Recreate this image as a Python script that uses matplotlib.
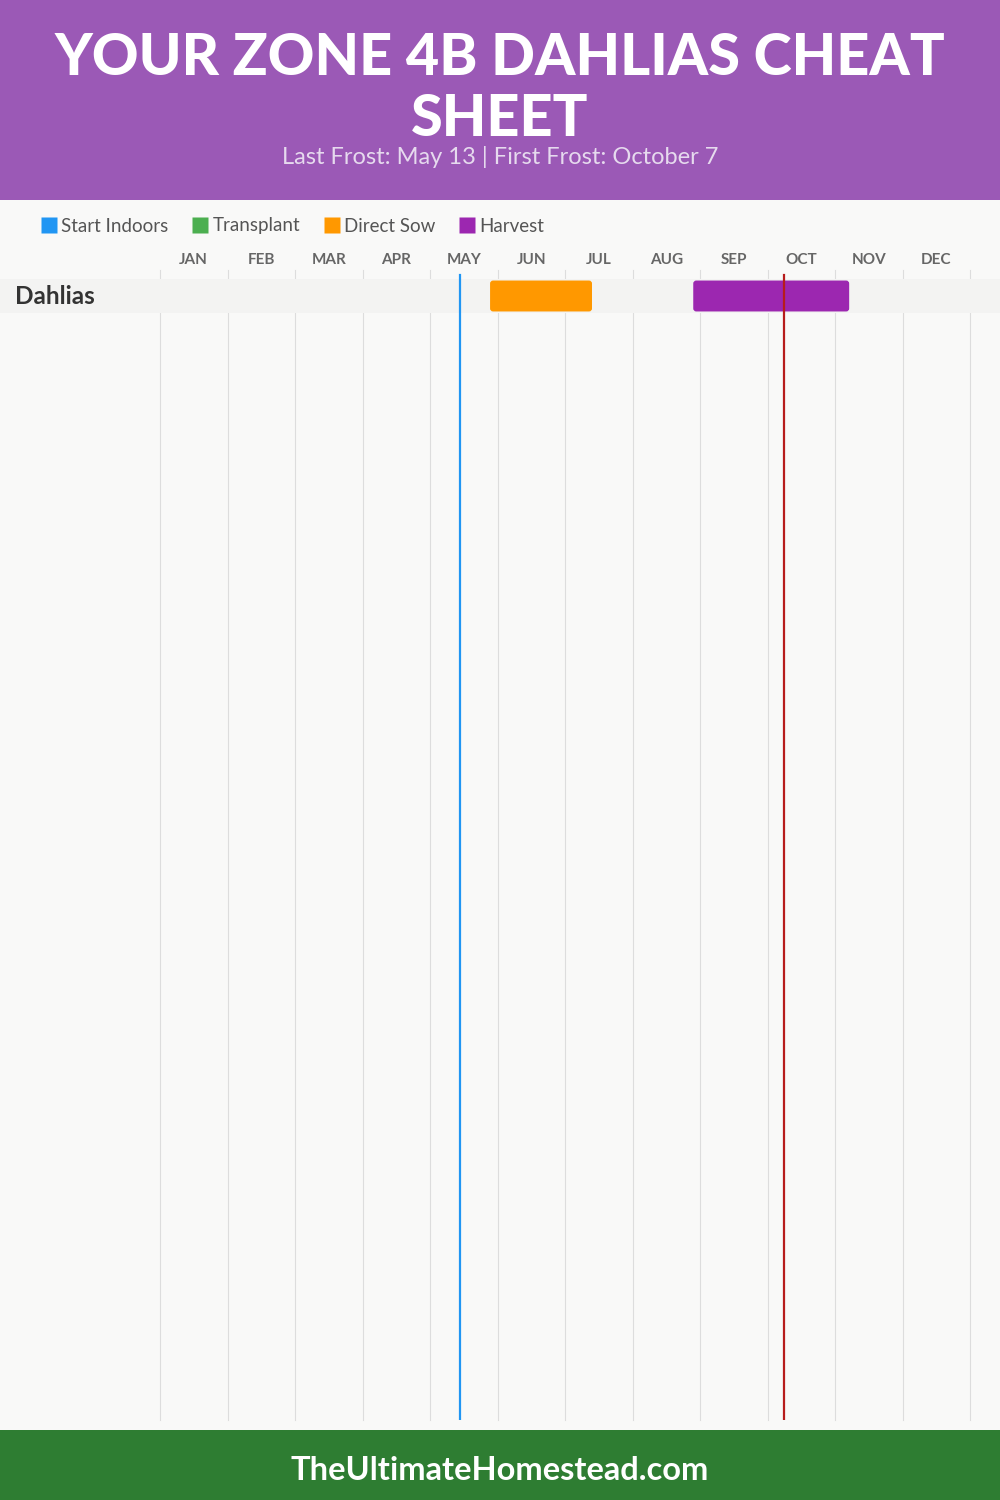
import matplotlib
matplotlib.use("Agg")
import matplotlib.pyplot as plt
from matplotlib.patches import FancyBboxPatch, Rectangle
from matplotlib.lines import Line2D
from matplotlib.transforms import blended_transform_factory

# ---- data ----
months = ["JAN", "FEB", "MAR", "APR", "MAY", "JUN",
          "JUL", "AUG", "SEP", "OCT", "NOV", "DEC"]
crops = ["Dahlias"]
legend_labels = ["Start Indoors", "Transplant", "Direct Sow", "Harvest"]
legend_colors = ["#2196F3", "#4CAF50", "#FF9800", "#9C27B0"]

# activity windows, in months from Jan 1 (start, end)
direct_sow = [(4.89, 6.40)]
harvest = [(7.90, 10.21)]
last_frost = 4.44    # May 13
first_frost = 9.24   # Oct 7

title = "YOUR ZONE 4B DAHLIAS CHEAT\nSHEET"
subtitle = "Last Frost: May 13 | First Frost: October 7"
footer = "TheUltimateHomestead.com"

W, H = 1000, 1500
fig = plt.figure(figsize=(W / 100, H / 100), dpi=100, facecolor="#F9F9F8")

# header / footer bands
fig.patches.append(Rectangle((0, 1 - 200 / H), 1, 200 / H, transform=fig.transFigure,
                             facecolor="#9B59B6", edgecolor="none", zorder=0))
fig.patches.append(Rectangle((0, 0), 1, 70 / H, transform=fig.transFigure,
                             facecolor="#2E7D32", edgecolor="none", zorder=0))

title_font = ["Lato", "DejaVu Sans"]
body_font = ["Lato", "DejaVu Sans"]

fig.text(0.5, 1 - 89 / H, title, ha="center", va="center", color="white",
         fontsize=41.5, fontweight="black", family=title_font, linespacing=1.18)
fig.text(0.5, 1 - 157 / H, subtitle, ha="center", va="center", color="#E6DAEE",
         fontsize=17, family=body_font)
fig.text(0.5, 29 / H, footer, ha="center", va="center", color="white",
         fontsize=23.5, fontweight="bold", family=body_font)

# legend
handles = [Line2D([], [], marker="s", linestyle="none", markersize=11,
                  markerfacecolor=c, markeredgecolor="none") for c in legend_colors]
leg = fig.legend(handles, legend_labels, loc="center left",
                 bbox_to_anchor=(34 / W, 1 - 226 / H), ncol=4, frameon=False,
                 prop={"family": body_font, "size": 13.5}, labelcolor="#555555",
                 handlelength=0.8, handletextpad=0.25, columnspacing=1.3,
                 borderaxespad=0)

# chart axes: x in months, y in rows
left, right, top, bottom = 160, 970, 270, 1420
ax = fig.add_axes([left / W, 1 - bottom / H, (right - left) / W, (bottom - top) / H])
ax.set_facecolor("none")
row_px = 34
ax.set_xlim(0, 12)
ax.set_ylim((bottom - 296) / row_px, -(296 - top) / row_px)
for s in ax.spines.values():
    s.set_visible(False)

ax.xaxis.tick_top()
ax.set_xticks([m + 0.5 for m in range(12)])
ax.set_xticklabels(months, fontsize=11, fontweight="bold", color="#666666",
                   family=body_font)
ax.tick_params(axis="x", length=0, pad=2.5)
ax.set_yticks([])

for m in range(13):
    ax.axvline(m, color="#DDDDDD", lw=0.8, zorder=1, clip_on=False)

xpx = (right - left) / 12
aspect = xpx / row_px
for i, crop in enumerate(crops):
    ax.axhspan(i - 0.5, i + 0.5, xmin=-left / (right - left), xmax=(W - left) / (right - left),
               facecolor="#F3F3F2", edgecolor="none", zorder=2, clip_on=False)
    trans = blended_transform_factory(fig.transFigure, ax.transData)
    ax.text(15 / W, i, crop, transform=trans, ha="left", va="center",
            fontsize=17.5, fontweight="bold", color="#333333", family=body_font)
    for (s, e), col in [(direct_sow[i], legend_colors[2]), (harvest[i], legend_colors[3])]:
        ax.add_patch(FancyBboxPatch((s, i - 0.455), e - s, 0.91,
                                    boxstyle="round,pad=0,rounding_size=0.045",
                                    mutation_aspect=aspect, facecolor=col,
                                    edgecolor="none", zorder=3))

ymax_line = 1 - (275 - top) / (bottom - top)
ax.axvline(last_frost, ymax=ymax_line, color="#2196F3", lw=1.6, zorder=4)
ax.axvline(first_frost, ymax=ymax_line, color="#B71C1C", lw=1.6, zorder=4)

fig.savefig("out.png", dpi=100, facecolor=fig.get_facecolor())
